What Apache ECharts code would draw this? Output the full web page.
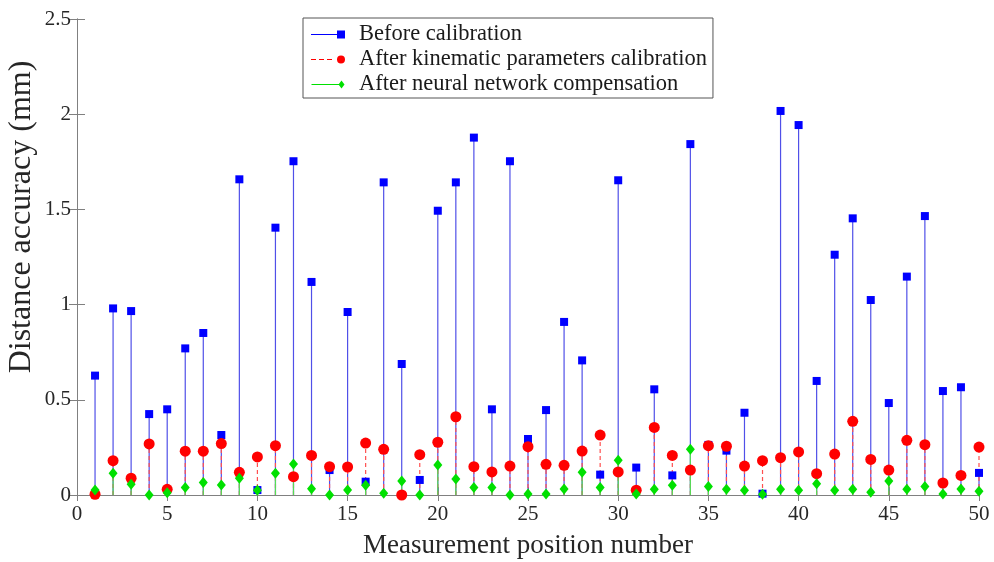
<!DOCTYPE html>
<html>
<head>
<meta charset="utf-8">
<script src="https://cdn.jsdelivr.net/npm/echarts@6/dist/echarts.min.js"></script>
<style>
html,body{margin:0;padding:0;background:#fff;}
#chart{width:994px;height:562px;}
</style>
</head>
<body>
<div id="chart"></div>
<script>
const positions = [1,2,3,4,5,6,7,8,9,10,11,12,13,14,15,16,17,18,19,20,21,22,23,24,25,26,27,28,29,30,31,32,33,34,35,36,37,38,39,40,41,42,43,44,45,46,47,48,49,50];
const beforeCalibration = [0.627,0.98,0.966,0.425,0.45,0.77,0.851,0.315,1.658,0.026,
  1.404,1.753,1.119,0.131,0.961,0.07,1.642,0.688,0.079,1.493,
  1.642,1.877,0.45,1.753,0.294,0.446,0.909,0.707,0.107,1.653,
  0.144,0.555,0.103,1.843,0.263,0.233,0.432,0.007,2.017,1.943,
  0.599,1.262,1.453,1.024,0.483,1.147,1.465,0.546,0.566,0.116];
const afterKinematic = [0.004,0.18,0.088,0.268,0.03,0.23,0.23,0.27,0.119,0.20,
  0.259,0.096,0.208,0.149,0.147,0.273,0.24,0.0,0.212,0.277,
  0.411,0.149,0.121,0.152,0.254,0.161,0.156,0.231,0.315,0.121,
  0.025,0.355,0.208,0.131,0.259,0.256,0.152,0.18,0.196,0.226,
  0.112,0.215,0.387,0.187,0.131,0.287,0.264,0.063,0.103,0.252];
const afterNeural = [0.026,0.114,0.056,0.0,0.012,0.04,0.065,0.052,0.088,0.025,
  0.114,0.163,0.033,0.0,0.026,0.051,0.009,0.074,0.0,0.158,
  0.084,0.04,0.04,0.0,0.005,0.005,0.032,0.119,0.04,0.182,
  0.005,0.03,0.051,0.24,0.044,0.03,0.025,0.004,0.03,0.025,
  0.059,0.025,0.03,0.014,0.074,0.03,0.044,0.005,0.032,0.02];
const seriesNames = ['Before calibration','After kinematic parameters calibration','After neural network compensation'];
const xTicks = {min:0, max:50, interval:5};
const yTicks = {min:0, max:2.5, interval:0.5};

const FONT = "'Liberation Serif','Times New Roman',serif";
const colors = ['#0000ff','#ff0000','#00e000'];
const stemColors = ['#5050e8','#ff5050','#55dd55'];
const stemDash = [null,[4,3],null];

function pairs(vals){ return positions.map((x,i)=>[x, vals[i]]); }

function stemSeries(vals, idx){
  return {
    type:'custom', name:'stem'+idx, data:pairs(vals), encode:{x:0,y:1}, silent:true,
    renderItem:function(params, api){
      const p0 = api.coord([api.value(0), 0]);
      const p1 = api.coord([api.value(0), api.value(1)]);
      const style = {stroke:stemColors[idx], lineWidth:1.2, fill:null};
      if (stemDash[idx]) style.lineDash = stemDash[idx];
      return {type:'line', shape:{x1:p0[0],y1:p0[1],x2:p1[0],y2:p1[1]}, style:style};
    }
  };
}
function markerSeries(vals, idx, symbol, size){
  return {
    type:'scatter', name:seriesNames[idx], data:pairs(vals), symbol:symbol, symbolSize:size,
    clip:false, itemStyle:{color:colors[idx], opacity:1}, silent:true
  };
}

const icons = [
  'path://M0,3.5 L27,3.5 L27,4.5 L0,4.5 Z M26,0 L34,0 L34,8 L26,8 Z',
  'path://M0,3.5 L5,3.5 L5,4.5 L0,4.5 Z M8,3.5 L13,3.5 L13,4.5 L8,4.5 Z M16,3.5 L21,3.5 L21,4.5 L16,4.5 Z M26,4 A4,4 0 1,1 34,4 A4,4 0 1,1 26,4 Z',
  'path://M0,3.5 L27.5,3.5 L27.5,4.5 L0,4.5 Z M30,0 L33,4 L30,8 L27,4 Z'
];

const axisLineStyle = {color:'#808080', width:1};
const chart = echarts.init(document.getElementById('chart'), null, {renderer:'canvas'});
chart.setOption({
  animation:false,
  backgroundColor:'#ffffff',
  grid:{left:77, right:15, top:19, bottom:67, containLabel:false, outerBoundsMode:'none'},
  legend:{
    orient:'vertical', left:303, top:18,
    data:seriesNames.map((n,i)=>({name:n, icon:icons[i]})),
    itemWidth:34, itemHeight:8, itemGap:0,
    padding:[4,6,1,8],
    borderColor:'#555', borderWidth:1, backgroundColor:'#ffffff',
    textStyle:{fontFamily:FONT, fontSize:22.5, color:'#1a1a1a', lineHeight:25, padding:[0,0,0,9]},
    selectedMode:false
  },
  xAxis:[{
    type:'value', min:xTicks.min, max:xTicks.max, interval:xTicks.interval,
    name:'Measurement position number', nameLocation:'middle', nameGap:37, nameMoveOverlap:false,
    nameTextStyle:{fontFamily:FONT, fontSize:27, color:'#262626'},
    axisLine:{show:true, lineStyle:axisLineStyle},
    axisTick:{show:true, inside:true, length:8, lineStyle:axisLineStyle},
    axisLabel:{fontFamily:FONT, fontSize:21, color:'#262626', margin:9},
    splitLine:{show:false}
  },{
    type:'value', position:'top', min:xTicks.min, max:xTicks.max, interval:xTicks.interval,
    axisLine:{show:true, lineStyle:axisLineStyle},
    axisTick:{show:true, inside:true, length:6, lineStyle:axisLineStyle},
    axisLabel:{show:false}, splitLine:{show:false}
  }],
  yAxis:[{
    type:'value', min:yTicks.min, max:yTicks.max, interval:yTicks.interval,
    name:'Distance accuracy (mm)', nameLocation:'middle', nameGap:39, nameMoveOverlap:false,
    nameTextStyle:{fontFamily:FONT, fontSize:32, color:'#262626', padding:[0,0,0,80]},
    axisLine:{show:true, lineStyle:axisLineStyle},
    axisTick:{show:true, inside:true, length:8, lineStyle:axisLineStyle},
    axisLabel:{fontFamily:FONT, fontSize:21, color:'#262626', margin:6},
    splitLine:{show:false}
  },{
    type:'value', position:'right', min:yTicks.min, max:yTicks.max, interval:yTicks.interval,
    axisLine:{show:true, lineStyle:axisLineStyle},
    axisTick:{show:true, inside:true, length:8, lineStyle:axisLineStyle},
    axisLabel:{show:false}, splitLine:{show:false}
  }],
  series:[
    stemSeries(beforeCalibration,0),
    markerSeries(beforeCalibration,0,'rect',[8,8]),
    stemSeries(afterKinematic,1),
    markerSeries(afterKinematic,1,'circle',11),
    stemSeries(afterNeural,2),
    markerSeries(afterNeural,2,'diamond',[9,11])
  ]
});
</script>
</body>
</html>
